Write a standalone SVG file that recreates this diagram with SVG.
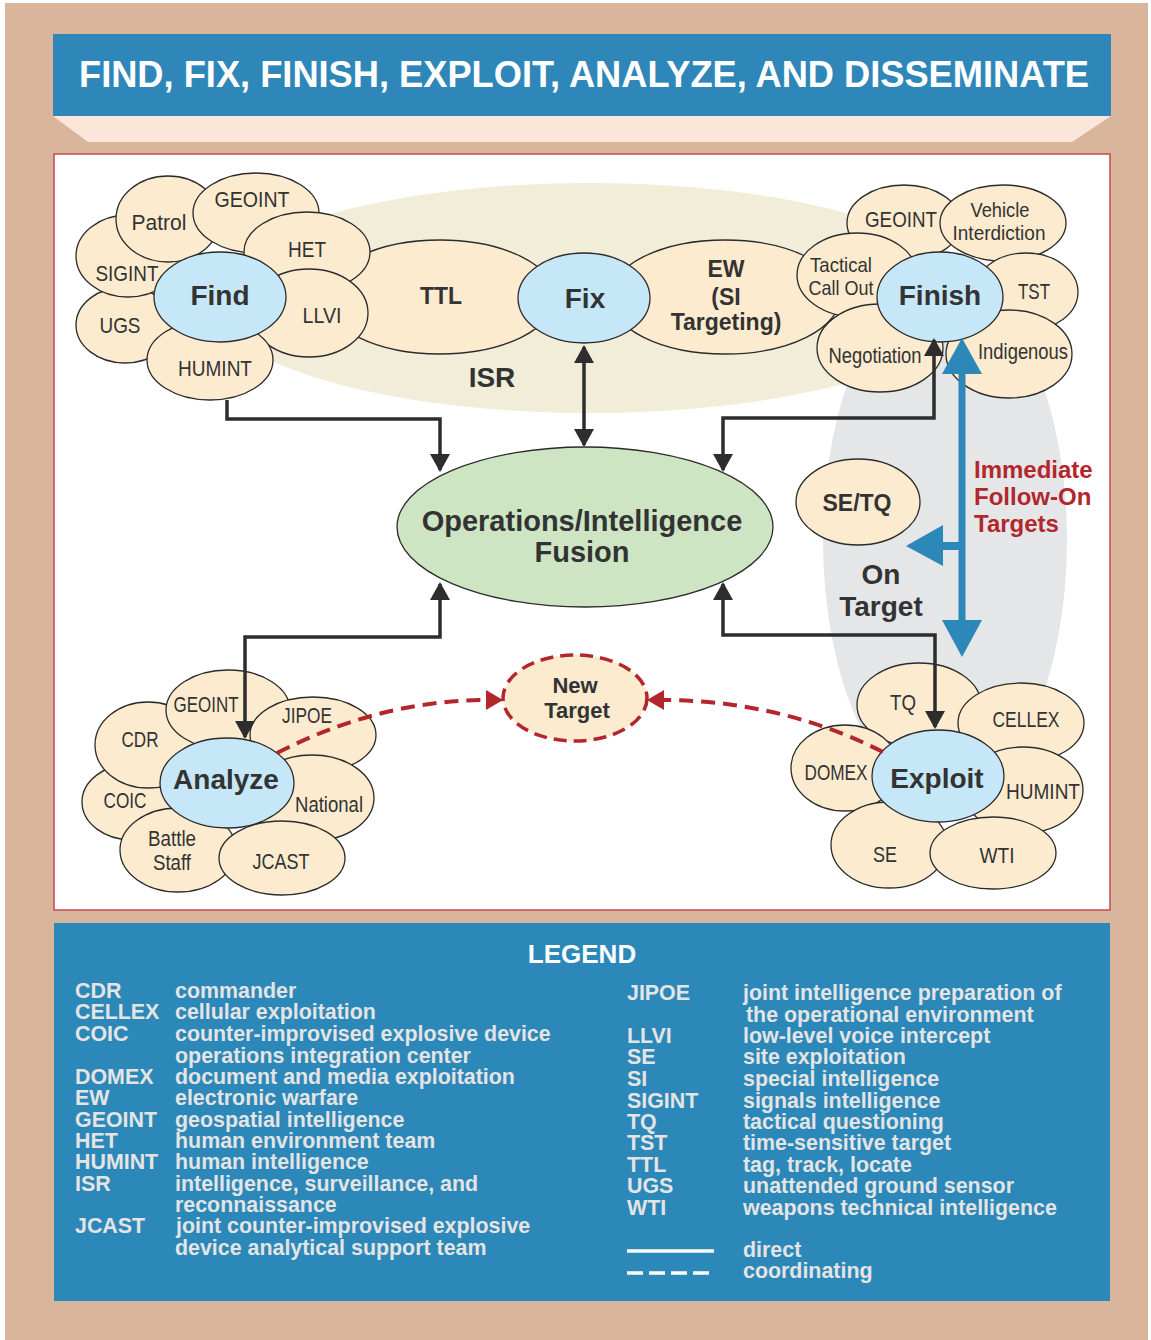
<svg xmlns="http://www.w3.org/2000/svg" width="1151" height="1340" viewBox="0 0 1151 1340">
<defs>
<style>
.b{fill:#FDEBCF;stroke:#2b2b2b;stroke-width:1.3}
.c{fill:#C5E7F8;stroke:#2b2b2b;stroke-width:1.3}
.t{font-family:"Liberation Sans",Arial,sans-serif;font-size:22px;fill:#333;text-anchor:middle}
.s{font-size:21px}
.tb{font-family:"Liberation Sans",Arial,sans-serif;font-weight:bold;font-size:28px;fill:#333;text-anchor:middle}
.m{font-size:23px}
.lg{font-family:"Liberation Sans",Arial,sans-serif;font-weight:bold;font-size:21.4px;fill:#E4E4E4}
.con{fill:none;stroke:#2d2d2d;stroke-width:3.5}
.dash{fill:none;stroke:#B2262C;stroke-width:4;stroke-dasharray:14 8}
</style>
<marker id="ah" markerUnits="userSpaceOnUse" markerWidth="18" markerHeight="20" refX="16" refY="10" orient="auto-start-reverse" viewBox="0 0 18 20">
<path d="M0,0 L18,10 L0,20 Z" fill="#2d2d2d"/>
</marker>
<marker id="rh" markerUnits="userSpaceOnUse" markerWidth="17" markerHeight="20" refX="2" refY="10" orient="auto" viewBox="0 0 17 20">
<path d="M0,0 L17,10 L0,20 Z" fill="#B2262C"/>
</marker>
</defs>

<rect x="0" y="0" width="1151" height="1340" fill="#ffffff"/>
<rect x="5" y="3" width="1143" height="1337" fill="#D9B69B"/>

<!-- title -->
<g id="title">
<polygon points="53,116 1111,116 1072,142 88,142" fill="#FCE5D9"/>
<rect x="53" y="34" width="1058" height="82" fill="#2E87B8"/>
<text x="584" y="87" font-family="'Liberation Sans',Arial,sans-serif" font-weight="bold" font-size="37" fill="#ffffff" text-anchor="middle" textLength="1010" lengthAdjust="spacingAndGlyphs">FIND, FIX, FINISH, EXPLOIT, ANALYZE, AND DISSEMINATE</text>
</g>

<!-- panel -->
<rect x="54" y="154" width="1056" height="756" fill="#ffffff" stroke="#C8474A" stroke-width="1.5"/>

<!-- background regions -->
<g id="isr">
<ellipse cx="590" cy="298" rx="380" ry="115" fill="#F1EDD9"/>
<text class="tb" x="492" y="387">ISR</text>
</g>
<g id="on-target">
<ellipse cx="945" cy="540" rx="122" ry="260" fill="#E5E6E8"/>
<text class="tb" x="881" y="584">On</text>
<text class="tb" x="881" y="616">Target</text>
</g>

<g id="ttl"><ellipse class="b" cx="440" cy="297" rx="115" ry="57"/><text class="tb m" x="441" y="304">TTL</text></g>
<g id="ew"><ellipse class="b" cx="725" cy="297" rx="115" ry="57"/>
<text class="tb m" x="726" y="277">EW</text><text class="tb m" x="726" y="305">(SI</text><text class="tb m" x="726" y="330">Targeting)</text></g>
<g id="fix"><ellipse class="c" cx="584" cy="298" rx="66" ry="45"/><text class="tb" x="585" y="308">Fix</text></g>

<!-- Find cluster -->
<g id="find-ugs"><ellipse class="b" cx="125" cy="325" rx="49" ry="38"/><text class="t" x="120" y="333" textLength="41" lengthAdjust="spacingAndGlyphs">UGS</text></g>
<g id="find-sigint"><ellipse class="b" cx="128" cy="256" rx="52" ry="41"/><text class="t" x="127" y="281" textLength="63" lengthAdjust="spacingAndGlyphs">SIGINT</text></g>
<g id="find-patrol"><ellipse class="b" cx="168" cy="219" rx="52" ry="43"/><text class="t" x="159" y="230" textLength="55" lengthAdjust="spacingAndGlyphs">Patrol</text></g>
<g id="find-geoint"><ellipse class="b" cx="256" cy="213" rx="63" ry="40"/><text class="t" x="252" y="207" textLength="75" lengthAdjust="spacingAndGlyphs">GEOINT</text></g>
<g id="find-het"><ellipse class="b" cx="307" cy="252" rx="63" ry="40"/><text class="t" x="307" y="257" textLength="38" lengthAdjust="spacingAndGlyphs">HET</text></g>
<g id="find-llvi"><ellipse class="b" cx="309" cy="313" rx="59" ry="44"/><text class="t" x="322" y="323" textLength="39" lengthAdjust="spacingAndGlyphs">LLVI</text></g>
<g id="find-humint"><ellipse class="b" cx="210" cy="360" rx="63" ry="40"/><text class="t" x="215" y="376" textLength="74" lengthAdjust="spacingAndGlyphs">HUMINT</text></g>
<g id="find"><ellipse class="c" cx="220" cy="297" rx="66" ry="45"/><text class="tb" x="220" y="305">Find</text></g>

<!-- Finish cluster -->
<g id="finish-geoint"><ellipse class="b" cx="904" cy="223" rx="57" ry="38"/><text class="t" x="901" y="227" textLength="72" lengthAdjust="spacingAndGlyphs">GEOINT</text></g>
<g id="finish-vehicle"><ellipse class="b" cx="1003" cy="223" rx="63" ry="38"/><text class="t s" x="1000" y="217" textLength="59" lengthAdjust="spacingAndGlyphs">Vehicle</text><text class="t s" x="999" y="240" textLength="93" lengthAdjust="spacingAndGlyphs">Interdiction</text></g>
<g id="finish-tst"><ellipse class="b" cx="1026" cy="292" rx="52" ry="39"/><text class="t" x="1034" y="299" textLength="32" lengthAdjust="spacingAndGlyphs">TST</text></g>
<g id="finish-tactical"><ellipse class="b" cx="857" cy="275" rx="60" ry="42"/><text class="t s" x="841" y="272" textLength="62" lengthAdjust="spacingAndGlyphs">Tactical</text><text class="t s" x="841" y="295" textLength="65" lengthAdjust="spacingAndGlyphs">Call Out</text></g>
<g id="finish-negotiation"><ellipse class="b" cx="880" cy="348" rx="63" ry="44"/><text class="t" x="875" y="363" textLength="93" lengthAdjust="spacingAndGlyphs">Negotiation</text></g>
<g id="finish-indigenous"><ellipse class="b" cx="1009" cy="354" rx="63" ry="44"/><text class="t" x="1023" y="359" textLength="90" lengthAdjust="spacingAndGlyphs">Indigenous</text></g>
<g id="finish"><ellipse class="c" cx="940" cy="297" rx="63" ry="45"/><text class="tb" x="940" y="305">Finish</text></g>

<!-- Fusion -->
<g id="fusion"><ellipse cx="585" cy="527" rx="188" ry="80" fill="#CDE5C3" stroke="#2b2b2b" stroke-width="1.3"/>
<text class="tb" x="582" y="531" style="font-size:29px">Operations/Intelligence</text>
<text class="tb" x="582" y="562" style="font-size:29px">Fusion</text></g>

<g id="se-tq"><ellipse class="b" cx="858" cy="502" rx="62" ry="43"/><text class="tb m" x="857" y="511">SE/TQ</text></g>

<!-- Analyze cluster -->
<g id="analyze-coic"><ellipse class="b" cx="132" cy="802" rx="50" ry="38"/><text class="t" x="125" y="808" textLength="43" lengthAdjust="spacingAndGlyphs">COIC</text></g>
<g id="analyze-cdr"><ellipse class="b" cx="148" cy="745" rx="53" ry="43"/><text class="t" x="140" y="747" textLength="37" lengthAdjust="spacingAndGlyphs">CDR</text></g>
<g id="analyze-geoint"><ellipse class="b" cx="228" cy="710" rx="62" ry="40"/><text class="t" x="206" y="712" textLength="65" lengthAdjust="spacingAndGlyphs">GEOINT</text></g>
<g id="analyze-jipoe"><ellipse class="b" cx="313" cy="735" rx="63" ry="38"/><text class="t" x="307" y="723" textLength="50" lengthAdjust="spacingAndGlyphs">JIPOE</text></g>
<g id="analyze-national"><ellipse class="b" cx="312" cy="798" rx="62" ry="43"/><text class="t" x="329" y="812" textLength="68" lengthAdjust="spacingAndGlyphs">National</text></g>
<g id="analyze-battle-staff"><ellipse class="b" cx="178" cy="850" rx="58" ry="42"/><text class="t" x="172" y="846" textLength="48" lengthAdjust="spacingAndGlyphs">Battle</text><text class="t" x="172" y="870" textLength="38" lengthAdjust="spacingAndGlyphs">Staff</text></g>
<g id="analyze-jcast"><ellipse class="b" cx="282" cy="858" rx="63" ry="37"/><text class="t" x="281" y="869" textLength="57" lengthAdjust="spacingAndGlyphs">JCAST</text></g>
<g id="analyze"><ellipse class="c" cx="227" cy="783" rx="67" ry="45"/><text class="tb" x="226" y="789">Analyze</text></g>

<!-- Exploit cluster -->
<g id="exploit-tq"><ellipse class="b" cx="919" cy="705" rx="62" ry="42"/><text class="t" x="903" y="710" textLength="26" lengthAdjust="spacingAndGlyphs">TQ</text></g>
<g id="exploit-cellex"><ellipse class="b" cx="1021" cy="723" rx="63" ry="40"/><text class="t" x="1026" y="727" textLength="67" lengthAdjust="spacingAndGlyphs">CELLEX</text></g>
<g id="exploit-domex"><ellipse class="b" cx="845" cy="768" rx="54" ry="43"/><text class="t" x="836" y="780" textLength="63" lengthAdjust="spacingAndGlyphs">DOMEX</text></g>
<g id="exploit-humint"><ellipse class="b" cx="1023" cy="790" rx="60" ry="43"/><text class="t" x="1043" y="799" textLength="74" lengthAdjust="spacingAndGlyphs">HUMINT</text></g>
<g id="exploit-se"><ellipse class="b" cx="889" cy="845" rx="58" ry="43"/><text class="t" x="885" y="862" textLength="24" lengthAdjust="spacingAndGlyphs">SE</text></g>
<g id="exploit-wti"><ellipse class="b" cx="993" cy="853" rx="63" ry="36"/><text class="t" x="997" y="863" textLength="35" lengthAdjust="spacingAndGlyphs">WTI</text></g>
<g id="exploit"><ellipse class="c" cx="938" cy="776" rx="66" ry="46"/><text class="tb" x="937" y="788">Exploit</text></g>

<!-- New target -->
<g id="new-target"><ellipse cx="575" cy="698" rx="72" ry="43" fill="#FDEBCF" stroke="#B2262C" stroke-width="3.5" stroke-dasharray="13 7"/>
<text class="tb" x="575" y="693" style="font-size:22px">New</text><text class="tb" x="577" y="718" style="font-size:22px">Target</text></g>

<g id="immediate-label" font-family="'Liberation Sans',Arial,sans-serif" font-weight="bold" font-size="24" fill="#B2262C">
<text x="974" y="478">Immediate</text>
<text x="974" y="505">Follow-On</text>
<text x="974" y="532">Targets</text>
</g>

<!-- connectors -->
<g id="connectors">
<path class="con" d="M227,400 V419 H440 V470" marker-end="url(#ah)"/>
<path class="con" d="M584,347 V445" marker-start="url(#ah)" marker-end="url(#ah)"/>
<path class="con" d="M723,470 V418 H934 V340" marker-start="url(#ah)" marker-end="url(#ah)"/>
<path class="con" d="M440,584 V637 H245 V737" marker-start="url(#ah)" marker-end="url(#ah)"/>
<path class="con" d="M723,584 V635 H935 V727" marker-start="url(#ah)" marker-end="url(#ah)"/>
<path class="dash" d="M277,753 Q380,700 488,700" marker-end="url(#rh)"/>
<path class="dash" d="M883,752 Q780,700 662,700" marker-end="url(#rh)"/>
<g id="follow-on-arrows" fill="#2B88B8">
<line x1="962" y1="370" x2="962" y2="624" stroke="#2B88B8" stroke-width="7"/>
<polygon points="962,338 982,374 942,374"/>
<polygon points="962,657 982,620 942,620"/>
<line x1="962" y1="546" x2="940" y2="546" stroke="#2B88B8" stroke-width="8"/>
<polygon points="906,546 943,525 943,566"/>
</g>
</g>

<!-- legend -->
<g id="legend">
<rect x="54" y="923" width="1056" height="378" fill="#2C88B8"/>
<text x="582" y="963" font-family="'Liberation Sans',Arial,sans-serif" font-weight="bold" font-size="26" fill="#ffffff" text-anchor="middle">LEGEND</text>
<g class="lg">
<text x="75" y="998">CDR</text><text x="175" y="998">commander</text>
<text x="75" y="1019">CELLEX</text><text x="175" y="1019">cellular exploitation</text>
<text x="75" y="1041">COIC</text><text x="175" y="1041">counter-improvised explosive device</text>
<text x="175" y="1063">operations integration center</text>
<text x="75" y="1084">DOMEX</text><text x="175" y="1084">document and media exploitation</text>
<text x="75" y="1105">EW</text><text x="175" y="1105">electronic warfare</text>
<text x="75" y="1127">GEOINT</text><text x="175" y="1127">geospatial intelligence</text>
<text x="75" y="1148">HET</text><text x="175" y="1148">human environment team</text>
<text x="75" y="1169">HUMINT</text><text x="175" y="1169">human intelligence</text>
<text x="75" y="1191">ISR</text><text x="175" y="1191">intelligence, surveillance, and</text>
<text x="175" y="1212">reconnaissance</text>
<text x="75" y="1233">JCAST</text><text x="176" y="1233">joint counter-improvised explosive</text>
<text x="175" y="1255">device analytical support team</text>

<text x="627" y="1000">JIPOE</text><text x="743" y="1000">joint intelligence preparation of</text>
<text x="746" y="1022">the operational environment</text>
<text x="627" y="1043">LLVI</text><text x="743" y="1043">low-level voice intercept</text>
<text x="627" y="1064">SE</text><text x="743" y="1064">site exploitation</text>
<text x="627" y="1086">SI</text><text x="743" y="1086">special intelligence</text>
<text x="627" y="1108">SIGINT</text><text x="743" y="1108">signals intelligence</text>
<text x="627" y="1129">TQ</text><text x="743" y="1129">tactical questioning</text>
<text x="627" y="1150">TST</text><text x="743" y="1150">time-sensitive target</text>
<text x="627" y="1172">TTL</text><text x="743" y="1172">tag, track, locate</text>
<text x="627" y="1193">UGS</text><text x="743" y="1193">unattended ground sensor</text>
<text x="627" y="1215">WTI</text><text x="743" y="1215">weapons technical intelligence</text>
<text x="743" y="1257">direct</text>
<text x="743" y="1278">coordinating</text>
</g>
<line x1="627" y1="1251" x2="714" y2="1251" stroke="#ffffff" stroke-width="3.5"/>
<line x1="627" y1="1273" x2="714" y2="1273" stroke="#ffffff" stroke-width="3.5" stroke-dasharray="16 6"/>
</g>
</svg>
